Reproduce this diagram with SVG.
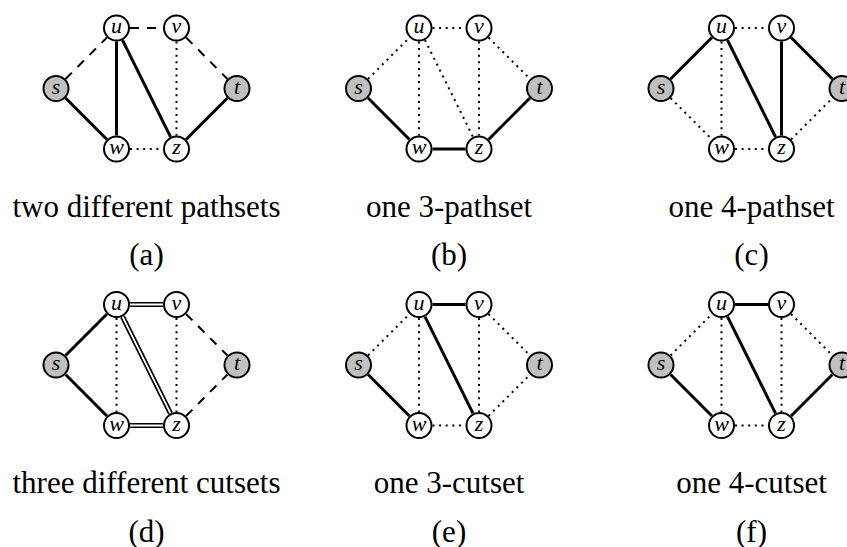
<svg xmlns="http://www.w3.org/2000/svg" width="847" height="547" viewBox="0 0 847 547">
<style>
.bg{fill:#fff}
.sol{stroke:#000;stroke-width:3;fill:none}
.dot{stroke:#000;stroke-width:2;stroke-dasharray:2 4.6;fill:none}
.dash{stroke:#000;stroke-width:2;stroke-dasharray:9 8;fill:none}
.dbl{stroke:#000;stroke-width:5.2;fill:none}
.dblw{stroke:#fff;stroke-width:1.8;fill:none}
.n circle{fill:#fff;stroke:#000;stroke-width:2}
.n.term circle{fill:#c0c0c0}
.n text{font-family:"Liberation Serif","DejaVu Serif",serif;font-style:italic;font-size:22px;text-anchor:middle}
.cap{font-family:"Liberation Serif","DejaVu Serif",serif;font-size:31px;text-anchor:middle}
</style>
<defs>
<line id="uv" x1="13.5" y1="0" x2="46.5" y2="0"/>
<line id="wz" x1="13.5" y1="121" x2="46.5" y2="121"/>
<line id="uw" x1="0" y1="13.5" x2="0" y2="107.5"/>
<line id="vz" x1="60" y1="13.5" x2="60" y2="107.5"/>
<line id="su" x1="-50.95" y1="50.95" x2="-9.55" y2="9.55"/>
<line id="sw" x1="-50.95" y1="70.05" x2="-9.55" y2="111.45"/>
<line id="vt" x1="69.55" y1="9.55" x2="110.95" y2="50.95"/>
<line id="zt" x1="69.55" y1="111.45" x2="110.95" y2="70.05"/>
<line id="uz" x1="6" y1="12.1" x2="54" y2="108.9"/>
</defs>
<rect class="bg" x="0" y="0" width="847" height="547"/>

<!-- Panel a -->
<g id="panel-a" transform="translate(116.5,28)">
<g id="a-connectors">
<use href="#su" class="dash"/><use href="#uv" class="dash"/><use href="#vt" class="dash"/>
<use href="#sw" class="sol"/><use href="#uw" class="sol"/><use href="#uz" class="sol"/><use href="#zt" class="sol"/>
<use href="#vz" class="dot"/><use href="#wz" class="dot"/>
</g>
<g id="a-u" class="n"><circle cx="0" cy="0" r="12.5"/><text x="0" y="5">u</text></g>
<g id="a-v" class="n"><circle cx="60" cy="0" r="12.5"/><text x="60" y="5">v</text></g>
<g id="a-s" class="n term"><circle cx="-60.5" cy="60.5" r="12.5"/><text x="-60.5" y="65.5">s</text></g>
<g id="a-t" class="n term"><circle cx="120.5" cy="60.5" r="12.5"/><text x="120.5" y="65.5">t</text></g>
<g id="a-w" class="n"><circle cx="0" cy="121" r="12.5"/><text x="0" y="126">w</text></g>
<g id="a-z" class="n"><circle cx="60" cy="121" r="12.5"/><text x="60" y="126">z</text></g>
</g>

<!-- Panel b -->
<g id="panel-b" transform="translate(419,28)">
<g id="b-connectors">
<use href="#uv" class="dot"/><use href="#su" class="dot"/><use href="#uw" class="dot"/><use href="#uz" class="dot"/><use href="#vz" class="dot"/><use href="#vt" class="dot"/>
<use href="#sw" class="sol"/><use href="#wz" class="sol"/><use href="#zt" class="sol"/>
</g>
<g id="b-u" class="n"><circle cx="0" cy="0" r="12.5"/><text x="0" y="5">u</text></g>
<g id="b-v" class="n"><circle cx="60" cy="0" r="12.5"/><text x="60" y="5">v</text></g>
<g id="b-s" class="n term"><circle cx="-60.5" cy="60.5" r="12.5"/><text x="-60.5" y="65.5">s</text></g>
<g id="b-t" class="n term"><circle cx="120.5" cy="60.5" r="12.5"/><text x="120.5" y="65.5">t</text></g>
<g id="b-w" class="n"><circle cx="0" cy="121" r="12.5"/><text x="0" y="126">w</text></g>
<g id="b-z" class="n"><circle cx="60" cy="121" r="12.5"/><text x="60" y="126">z</text></g>
</g>

<!-- Panel c -->
<g id="panel-c" transform="translate(721.5,28)">
<g id="c-connectors">
<use href="#su" class="sol"/><use href="#uz" class="sol"/><use href="#vz" class="sol"/><use href="#vt" class="sol"/>
<use href="#uv" class="dot"/><use href="#uw" class="dot"/><use href="#sw" class="dot"/><use href="#wz" class="dot"/><use href="#zt" class="dot"/>
</g>
<g id="c-u" class="n"><circle cx="0" cy="0" r="12.5"/><text x="0" y="5">u</text></g>
<g id="c-v" class="n"><circle cx="60" cy="0" r="12.5"/><text x="60" y="5">v</text></g>
<g id="c-s" class="n term"><circle cx="-60.5" cy="60.5" r="12.5"/><text x="-60.5" y="65.5">s</text></g>
<g id="c-t" class="n term"><circle cx="120.5" cy="60.5" r="12.5"/><text x="120.5" y="65.5">t</text></g>
<g id="c-w" class="n"><circle cx="0" cy="121" r="12.5"/><text x="0" y="126">w</text></g>
<g id="c-z" class="n"><circle cx="60" cy="121" r="12.5"/><text x="60" y="126">z</text></g>
</g>

<!-- Panel d -->
<g id="panel-d" transform="translate(116.5,304.5)">
<g id="d-connectors">
<use href="#su" class="sol"/><use href="#sw" class="sol"/>
<use href="#uw" class="dot"/><use href="#vz" class="dot"/>
<use href="#vt" class="dash"/><use href="#zt" class="dash"/>
<use href="#uv" class="dbl"/><use href="#uz" class="dbl"/><use href="#wz" class="dbl"/>
<use href="#uv" class="dblw"/><use href="#uz" class="dblw"/><use href="#wz" class="dblw"/>
</g>
<g id="d-u" class="n"><circle cx="0" cy="0" r="12.5"/><text x="0" y="5">u</text></g>
<g id="d-v" class="n"><circle cx="60" cy="0" r="12.5"/><text x="60" y="5">v</text></g>
<g id="d-s" class="n term"><circle cx="-60.5" cy="60.5" r="12.5"/><text x="-60.5" y="65.5">s</text></g>
<g id="d-t" class="n term"><circle cx="120.5" cy="60.5" r="12.5"/><text x="120.5" y="65.5">t</text></g>
<g id="d-w" class="n"><circle cx="0" cy="121" r="12.5"/><text x="0" y="126">w</text></g>
<g id="d-z" class="n"><circle cx="60" cy="121" r="12.5"/><text x="60" y="126">z</text></g>
</g>

<!-- Panel e -->
<g id="panel-e" transform="translate(419,304.5)">
<g id="e-connectors">
<use href="#uv" class="sol"/><use href="#uz" class="sol"/><use href="#sw" class="sol"/>
<use href="#su" class="dot"/><use href="#uw" class="dot"/><use href="#vz" class="dot"/><use href="#vt" class="dot"/><use href="#wz" class="dot"/><use href="#zt" class="dot"/>
</g>
<g id="e-u" class="n"><circle cx="0" cy="0" r="12.5"/><text x="0" y="5">u</text></g>
<g id="e-v" class="n"><circle cx="60" cy="0" r="12.5"/><text x="60" y="5">v</text></g>
<g id="e-s" class="n term"><circle cx="-60.5" cy="60.5" r="12.5"/><text x="-60.5" y="65.5">s</text></g>
<g id="e-t" class="n term"><circle cx="120.5" cy="60.5" r="12.5"/><text x="120.5" y="65.5">t</text></g>
<g id="e-w" class="n"><circle cx="0" cy="121" r="12.5"/><text x="0" y="126">w</text></g>
<g id="e-z" class="n"><circle cx="60" cy="121" r="12.5"/><text x="60" y="126">z</text></g>
</g>

<!-- Panel f -->
<g id="panel-f" transform="translate(721.5,304.5)">
<g id="f-connectors">
<use href="#uv" class="sol"/><use href="#uz" class="sol"/><use href="#sw" class="sol"/><use href="#zt" class="sol"/>
<use href="#su" class="dot"/><use href="#uw" class="dot"/><use href="#vz" class="dot"/><use href="#vt" class="dot"/><use href="#wz" class="dot"/>
</g>
<g id="f-u" class="n"><circle cx="0" cy="0" r="12.5"/><text x="0" y="5">u</text></g>
<g id="f-v" class="n"><circle cx="60" cy="0" r="12.5"/><text x="60" y="5">v</text></g>
<g id="f-s" class="n term"><circle cx="-60.5" cy="60.5" r="12.5"/><text x="-60.5" y="65.5">s</text></g>
<g id="f-t" class="n term"><circle cx="120.5" cy="60.5" r="12.5"/><text x="120.5" y="65.5">t</text></g>
<g id="f-w" class="n"><circle cx="0" cy="121" r="12.5"/><text x="0" y="126">w</text></g>
<g id="f-z" class="n"><circle cx="60" cy="121" r="12.5"/><text x="60" y="126">z</text></g>
</g>

<!-- Captions -->
<g id="captions">
<text class="cap" x="146.5" y="216.5">two different pathsets</text>
<text class="cap" x="146.5" y="265">(a)</text>
<text class="cap" x="449" y="216.5">one 3-pathset</text>
<text class="cap" x="449" y="265">(b)</text>
<text class="cap" x="751.5" y="216.5">one 4-pathset</text>
<text class="cap" x="751.5" y="265">(c)</text>
<text class="cap" x="146.5" y="493">three different cutsets</text>
<text class="cap" x="146.5" y="541.5">(d)</text>
<text class="cap" x="449" y="493">one 3-cutset</text>
<text class="cap" x="449" y="541.5">(e)</text>
<text class="cap" x="751.5" y="493">one 4-cutset</text>
<text class="cap" x="751.5" y="541.5">(f)</text>
</g>
</svg>
